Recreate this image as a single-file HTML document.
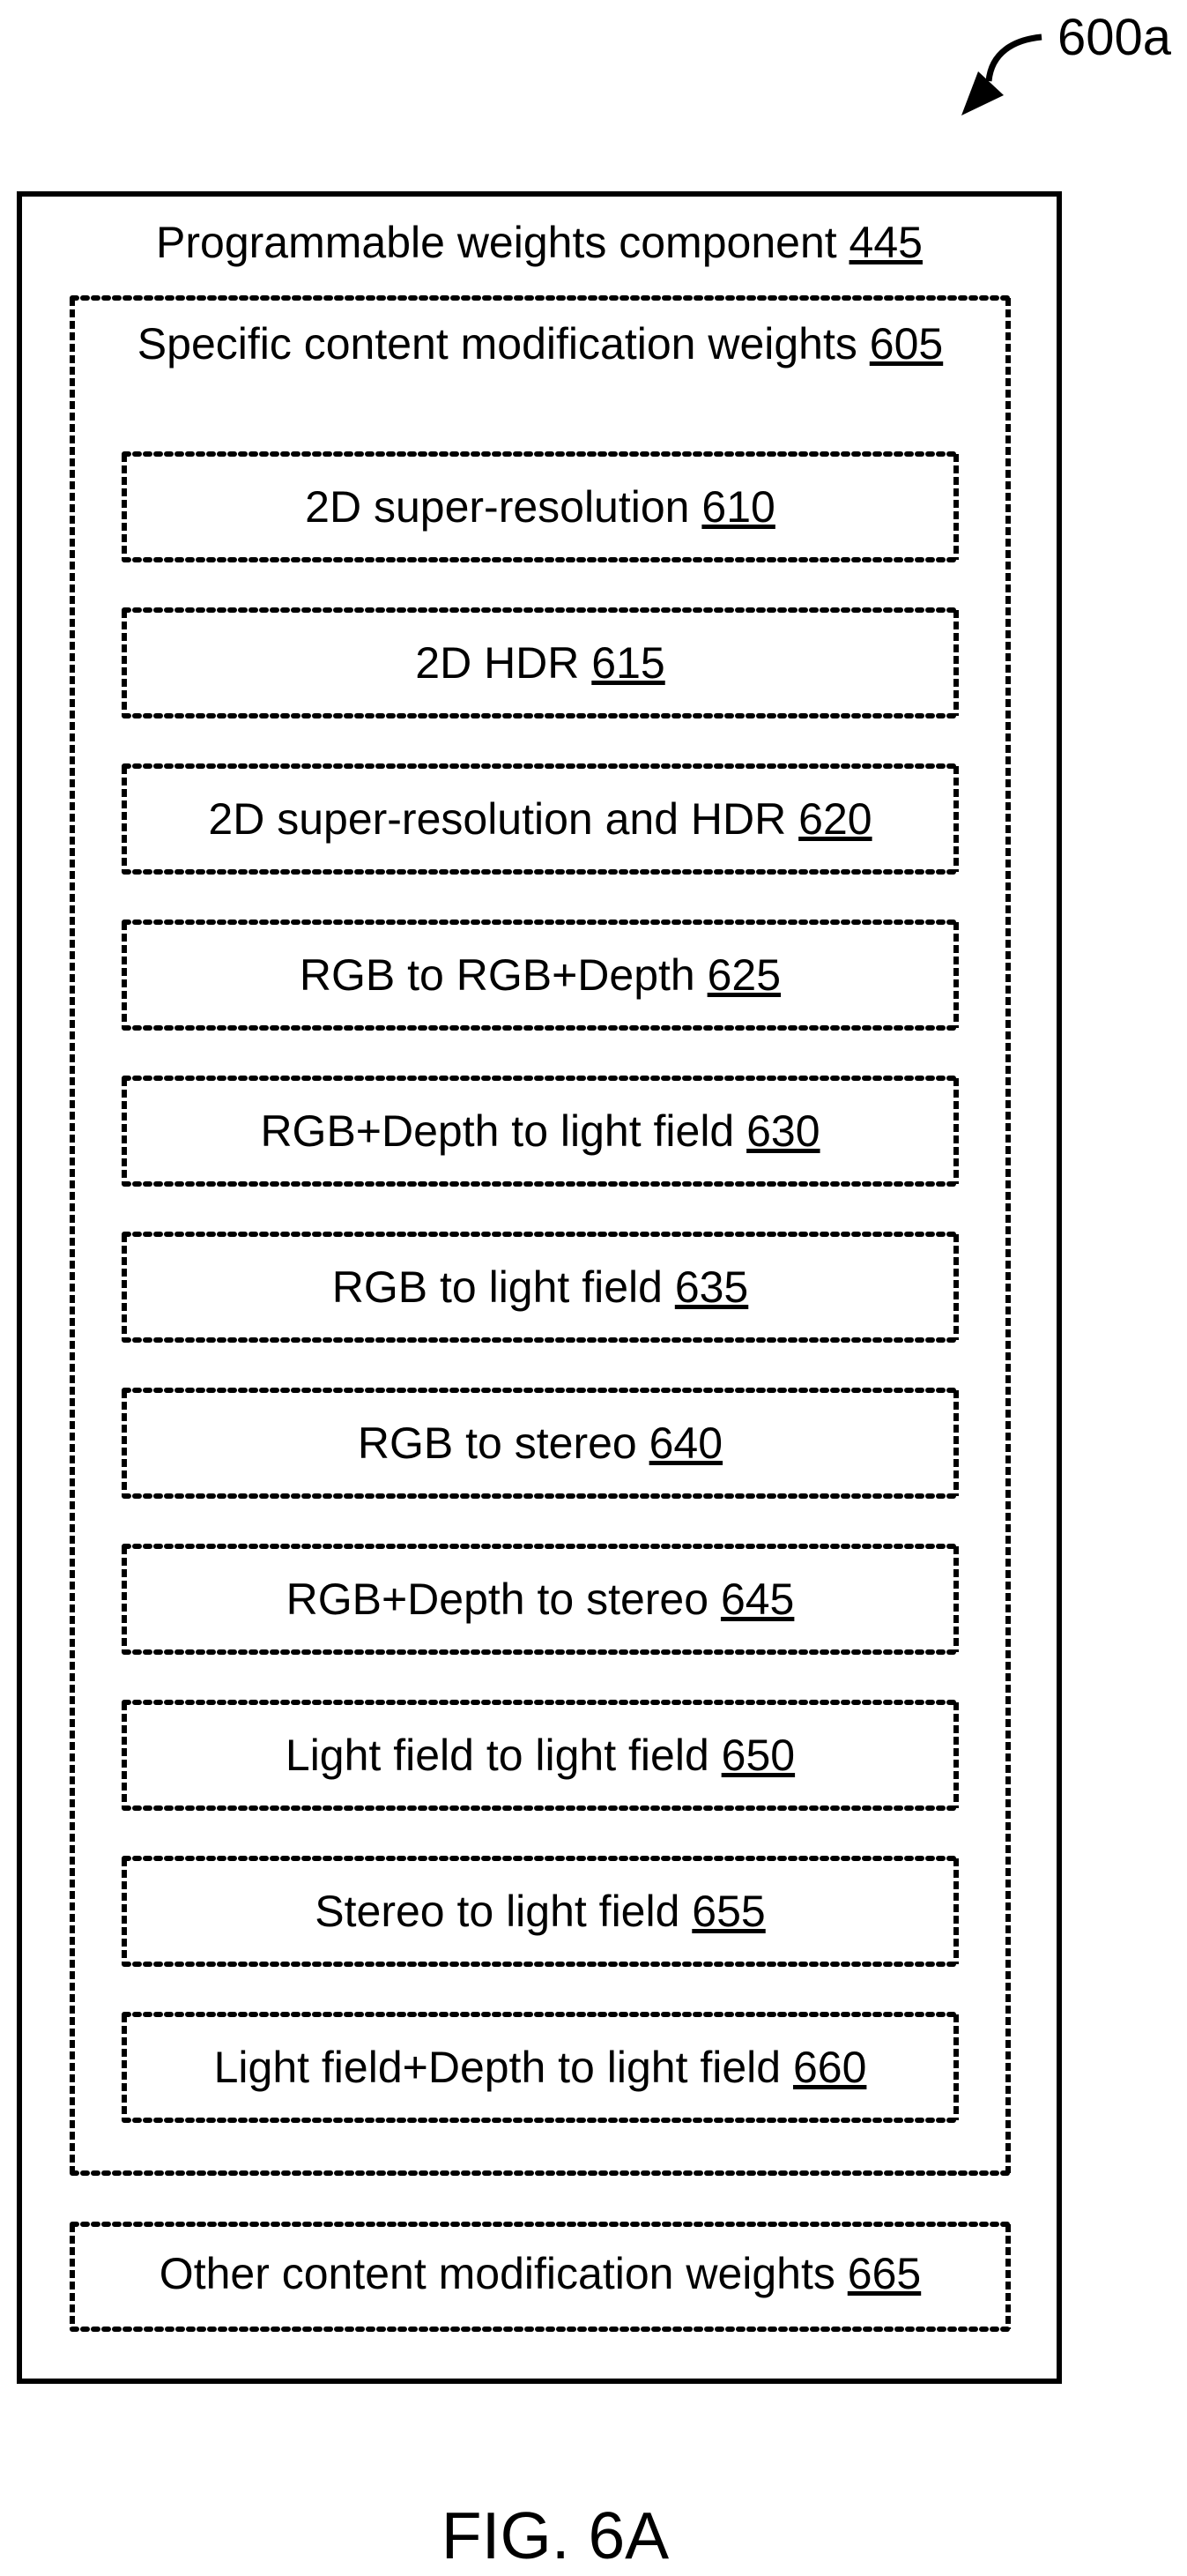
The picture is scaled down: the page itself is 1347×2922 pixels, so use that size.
<!DOCTYPE html>
<html><head><meta charset="utf-8"><style>
html,body{margin:0;padding:0;background:#fff;}
svg{display:block;}
text{font-family:"Liberation Sans",Arial,sans-serif;fill:#000;}
</style></head><body>
<svg width="1347" height="2922" viewBox="0 0 1347 2922" xmlns="http://www.w3.org/2000/svg">
<text x="1200" y="62" font-size="58">600a</text>
<path d="M1182 42 C1150 45 1125 60 1122 92" fill="none" stroke="#000" stroke-width="7"/>
<polygon points="1110,81 1139,108 1091,131" fill="#000"/>
<rect x="22" y="220" width="1180" height="2481" fill="none" stroke="#000" stroke-width="6"/>
<text x="612" y="292" font-size="50" text-anchor="middle">Programmable weights component <tspan text-decoration="underline">445</tspan></text>
<g fill="none" stroke="#000" stroke-width="6" stroke-linecap="round">
<path d="M82 338 H1144 M82 2465 H1144" stroke-dasharray="5 7"/>
<path d="M82 338 V2465 M1144 338 V2465" stroke-dasharray="9 4" stroke-linecap="butt"/>
</g>
<text x="613" y="407" font-size="50" text-anchor="middle">Specific content modification weights <tspan text-decoration="underline">605</tspan></text>
<g fill="none" stroke="#000" stroke-width="6" stroke-linecap="round">
<path d="M141 515 H1085 M141 635 H1085 M141 692 H1085 M141 812 H1085 M141 869 H1085 M141 989 H1085 M141 1046 H1085 M141 1166 H1085 M141 1223 H1085 M141 1343 H1085 M141 1400 H1085 M141 1520 H1085 M141 1577 H1085 M141 1697 H1085 M141 1754 H1085 M141 1874 H1085 M141 1931 H1085 M141 2051 H1085 M141 2108 H1085 M141 2228 H1085 M141 2285 H1085 M141 2405 H1085 M82 2523 H1144 M82 2642 H1144" stroke-dasharray="5 7"/>
<path d="M141 515 V635 M1085 515 V635 M141 692 V812 M1085 692 V812 M141 869 V989 M1085 869 V989 M141 1046 V1166 M1085 1046 V1166 M141 1223 V1343 M1085 1223 V1343 M141 1400 V1520 M1085 1400 V1520 M141 1577 V1697 M1085 1577 V1697 M141 1754 V1874 M1085 1754 V1874 M141 1931 V2051 M1085 1931 V2051 M141 2108 V2228 M1085 2108 V2228 M141 2285 V2405 M1085 2285 V2405 M82 2523 V2642 M1144 2523 V2642" stroke-dasharray="9 4" stroke-linecap="butt"/>
</g>
<g font-size="50" text-anchor="middle">
<text x="613" y="592">2D super-resolution <tspan text-decoration="underline">610</tspan></text>
<text x="613" y="769">2D HDR <tspan text-decoration="underline">615</tspan></text>
<text x="613" y="946">2D super-resolution and HDR <tspan text-decoration="underline">620</tspan></text>
<text x="613" y="1123">RGB to RGB+Depth <tspan text-decoration="underline">625</tspan></text>
<text x="613" y="1300">RGB+Depth to light field <tspan text-decoration="underline">630</tspan></text>
<text x="613" y="1477">RGB to light field <tspan text-decoration="underline">635</tspan></text>
<text x="613" y="1654">RGB to stereo <tspan text-decoration="underline">640</tspan></text>
<text x="613" y="1831">RGB+Depth to stereo <tspan text-decoration="underline">645</tspan></text>
<text x="613" y="2008">Light field to light field <tspan text-decoration="underline">650</tspan></text>
<text x="613" y="2185">Stereo to light field <tspan text-decoration="underline">655</tspan></text>
<text x="613" y="2362">Light field+Depth to light field <tspan text-decoration="underline">660</tspan></text>
<text x="613" y="2596">Other content modification weights <tspan text-decoration="underline">665</tspan></text>
</g>
<text x="630" y="2902" font-size="75" text-anchor="middle">FIG. 6A</text>
</svg>
</body></html>
